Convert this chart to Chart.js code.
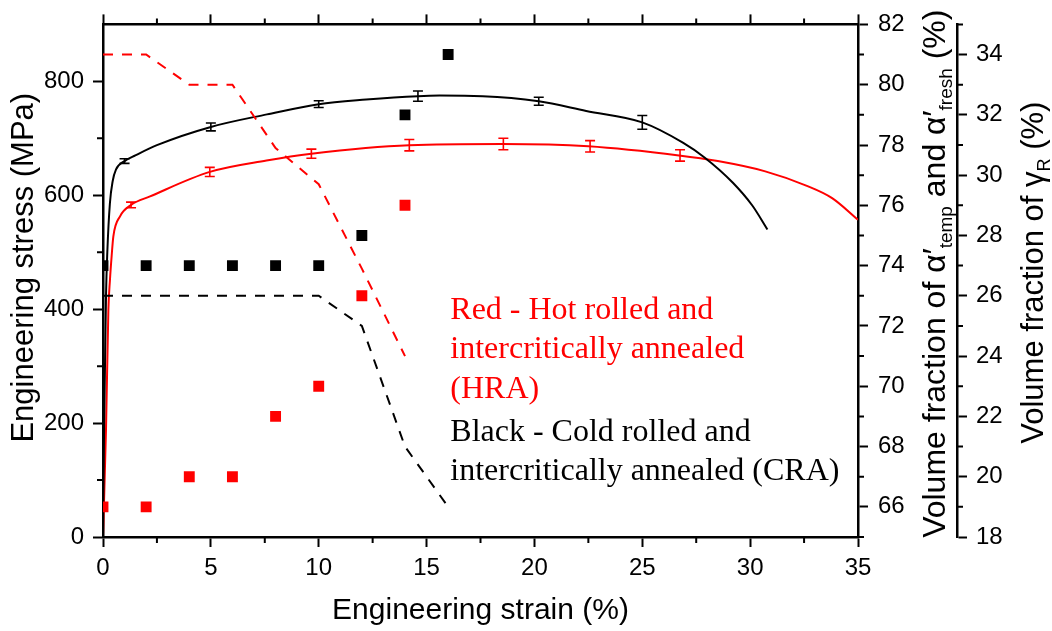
<!DOCTYPE html>
<html>
<head>
<meta charset="utf-8">
<script src="https://cdn.jsdelivr.net/npm/chart.js@4.4.1/dist/chart.umd.min.js"></script>
<style>
  html, body { margin: 0; padding: 0; background: #fff; }
  #wrap { width: 1052px; height: 631px; }
</style>
</head>
<body>
<div id="wrap"><canvas id="tensileChart" width="1052" height="631"></canvas></div>
<script>
"use strict";
// engineering stress-strain curves (strain %, stress MPa)
var craStrain = [0, 0.05, 0.14, 0.2, 0.32, 0.45, 0.6, 1.0, 1.5, 2.5, 5.0, 7.6, 10.0, 12.2, 14.6, 15.6, 17.6, 20.2, 22.4, 25.0, 26.9, 27.9, 29.2, 30.1, 30.8];
var craStress = [0, 190, 424, 500, 586, 625, 645, 660, 670, 688, 720, 742, 760, 768, 774, 775, 774, 765, 748, 728, 692, 666, 622, 582, 540];
var hraStrain = [0, 0.14, 0.25, 0.32, 0.4, 0.48, 0.79, 1.3, 2.18, 4.95, 7.58, 9.66, 14.2, 18.5, 22.5, 26.7, 28.5, 30.7, 32.6, 33.8, 35];
var hraStress = [0, 190, 400, 450, 493, 528, 563, 583, 598, 641, 661, 673, 688, 690, 686, 670, 660, 642, 617, 595, 557];

// scatter of the tensile curves (error bars)
var craErrStrain = [1.0, 5.0, 10.0, 14.6, 20.2, 25.0];
var craErrStress = [660, 720, 760, 774, 765, 728];
var craErrSize = [4, 7, 6, 9, 7, 12];
var hraErrStrain = [1.3, 4.95, 9.66, 14.2, 18.56, 22.58, 26.75];
var hraErrStress = [583, 641, 673, 688, 690, 686, 670];
var hraErrSize = [5, 8, 8, 10, 10, 10, 10];

// alpha' (tempered + fresh) fraction, squares
var craFracStrain = [0, 2, 4, 6, 8, 10, 12, 14, 16];
var craAlpha = [74, 74, 74, 74, 74, 74, 75, 79, 81];
var hraFracStrain = [0, 2, 4, 6, 8, 10, 12, 14];
var hraAlpha = [66, 66, 67, 67, 69, 70, 73, 76];

// retained austenite fraction, dashed
var craGamma = [26, 26, 26, 26, 26, 26, 25, 21, 19];
var hraGamma = [34, 34, 33, 33, 30.9, 29.7, 26.9, 24];

var hraNote = ["Red - Hot rolled and", "intercritically annealed", "(HRA)"];
var craNote = ["Black - Cold rolled and", "intercritically annealed (CRA)"];

var RED = "#ff0000";
var BLACK = "#000000";
var SANS = "'Liberation Sans', Arial, sans-serif";
var SERIF = "'Liberation Serif', 'Times New Roman', serif";

function pairs(xs, ys) {
    var out = [];
    for (var i = 0; i < xs.length; i++) out.push({x: xs[i], y: ys[i]});
    return out;
}

function axisStyle(extra) {
    var base = {
        type: "linear",
        grid: {drawOnChartArea: false, tickLength: 10, tickWidth: 2, tickColor: BLACK},
        border: {display: true, color: BLACK, width: 2.5},
        ticks: {color: BLACK, font: {family: SANS, size: 24}, autoSkip: false, maxRotation: 0, includeBounds: false}
    };
    for (var k in extra) {
        if (typeof extra[k] === "object" && base[k] && !Array.isArray(extra[k])) {
            for (var j in extra[k]) base[k][j] = extra[k][j];
        } else {
            base[k] = extra[k];
        }
    }
    return base;
}

// short ticks between the labelled ones
var minorTicks = {
    id: "minorTicks",
    afterDraw: function (chart) {
        var ctx = chart.ctx, a = chart.chartArea, s = chart.scales, v, p;
        ctx.save();
        ctx.strokeStyle = BLACK;
        ctx.lineWidth = 2;
        ctx.beginPath();
        for (v = 2.5; v < 35; v += 5) {
            p = s.x.getPixelForValue(v);
            ctx.moveTo(p, a.bottom); ctx.lineTo(p, a.bottom + 6);
            ctx.moveTo(p, a.top); ctx.lineTo(p, a.top - 6);
        }
        for (v = 100; v < 900; v += 200) {
            p = s.y.getPixelForValue(v);
            ctx.moveTo(a.left, p); ctx.lineTo(a.left - 6, p);
        }
        for (v = 65; v <= 81; v += 2) {
            p = s.y1.getPixelForValue(v);
            ctx.moveTo(s.y1.left, p); ctx.lineTo(s.y1.left + 6, p);
        }
        for (v = 19; v <= 35; v += 2) {
            p = s.y2.getPixelForValue(v);
            ctx.moveTo(s.y2.left, p); ctx.lineTo(s.y2.left + 6, p);
        }
        ctx.stroke();
        ctx.restore();
    }
};

function drawBars(chart, xs, ys, errs, color) {
    var ctx = chart.ctx, sx = chart.scales.x, sy = chart.scales.y;
    ctx.save();
    ctx.strokeStyle = color;
    ctx.lineWidth = 1.6;
    ctx.beginPath();
    for (var i = 0; i < xs.length; i++) {
        var px = sx.getPixelForValue(xs[i]);
        var top = sy.getPixelForValue(ys[i] + errs[i]);
        var bot = sy.getPixelForValue(ys[i] - errs[i]);
        ctx.moveTo(px, top); ctx.lineTo(px, bot);
        ctx.moveTo(px - 5, top); ctx.lineTo(px + 5, top);
        ctx.moveTo(px - 5, bot); ctx.lineTo(px + 5, bot);
    }
    ctx.stroke();
    ctx.restore();
}

var errorBars = {
    id: "errorBars",
    afterDatasetsDraw: function (chart) {
        drawBars(chart, craErrStrain, craErrStress, craErrSize, BLACK);
        drawBars(chart, hraErrStrain, hraErrStress, hraErrSize, RED);
    }
};

// rotated axis title, parts may carry a subscript
function rotatedTitle(ctx, x, y, parts, size) {
    var subSize = Math.round(size * 0.58);
    var total = 0, i;
    for (i = 0; i < parts.length; i++) {
        ctx.font = (parts[i].sub ? subSize : size) + "px " + SANS;
        parts[i].w = ctx.measureText(parts[i].t).width;
        total += parts[i].w;
    }
    ctx.save();
    ctx.translate(x, y);
    ctx.rotate(-Math.PI / 2);
    ctx.fillStyle = BLACK;
    ctx.textBaseline = "alphabetic";
    ctx.textAlign = "left";
    var cx = -total / 2;
    for (i = 0; i < parts.length; i++) {
        ctx.font = (parts[i].sub ? subSize : size) + "px " + SANS;
        ctx.fillText(parts[i].t, cx, parts[i].sub ? size * 0.22 : 0);
        cx += parts[i].w;
    }
    ctx.restore();
}

var axisTitles = {
    id: "axisTitles",
    afterDraw: function (chart) {
        var ctx = chart.ctx, s = chart.scales, a = chart.chartArea;
        var mid = (a.top + a.bottom) / 2;
        rotatedTitle(ctx, s.y.left + 33, mid - 13, [{t: "Engineering stress (MPa)"}], 31);
        rotatedTitle(ctx, s.y1.left + 87, mid - 7, [
            {t: "Volume fraction of \u03b1\u2032"}, {t: "temp", sub: true},
            {t: " and \u03b1\u2032"}, {t: "fresh", sub: true}, {t: " (%)"}
        ], 32);
        rotatedTitle(ctx, s.y2.left + 86, mid - 8, [
            {t: "Volume fraction of \u03b3"}, {t: "R", sub: true}, {t: " (%)"}
        ], 31);
    }
};

function noteBlock(chart, lines, strain, stress, color) {
    var ctx = chart.ctx;
    var x = chart.scales.x.getPixelForValue(strain);
    var y = chart.scales.y.getPixelForValue(stress);
    ctx.save();
    ctx.fillStyle = color;
    ctx.font = "32px " + SERIF;
    ctx.textAlign = "left";
    ctx.textBaseline = "alphabetic";
    for (var i = 0; i < lines.length; i++) ctx.fillText(lines[i], x, y + i * 39.5);
    ctx.restore();
}

var notes = {
    id: "notes",
    afterDatasetsDraw: function (chart) {
        noteBlock(chart, hraNote, 16.1, 383, RED);
        noteBlock(chart, craNote, 16.1, 168.6, BLACK);
    }
};

var ctx = document.getElementById("tensileChart");
var tensileChart = new Chart(ctx, {
    type: "scatter",
    data: {
        datasets: [
            {data: pairs(craFracStrain, craAlpha), yAxisID: "y1", pointStyle: "rect", pointRadius: 7.7,
                backgroundColor: BLACK, borderWidth: 0, clip: 0},
            {data: pairs(hraFracStrain, hraAlpha), yAxisID: "y1", pointStyle: "rect", pointRadius: 7.7,
                backgroundColor: RED, borderWidth: 0, clip: 0},
            {data: pairs(craFracStrain, craGamma), yAxisID: "y2", showLine: true, pointRadius: 0,
                borderColor: BLACK, borderWidth: 2, borderDash: [10, 9]},
            {data: pairs(craFracStrain.slice(0, hraGamma.length), hraGamma), yAxisID: "y2", showLine: true, pointRadius: 0,
                borderColor: RED, borderWidth: 2, borderDash: [10, 9]},
            {data: pairs(craStrain, craStress), yAxisID: "y", showLine: true, pointRadius: 0,
                borderColor: BLACK, borderWidth: 2, cubicInterpolationMode: "monotone"},
            {data: pairs(hraStrain, hraStress), yAxisID: "y", showLine: true, pointRadius: 0,
                borderColor: RED, borderWidth: 2, cubicInterpolationMode: "monotone"}
        ]
    },
    options: {
        responsive: false,
        animation: false,
        devicePixelRatio: 1,
        events: [],
        layout: {padding: 0},
        plugins: {legend: {display: false}, tooltip: {enabled: false}},
        scales: {
            x: axisStyle({position: "bottom", min: 0, max: 35,
                ticks: {stepSize: 5, padding: 7},
                title: {display: true, text: "Engineering strain (%)", color: BLACK,
                    font: {family: SANS, size: 30}, padding: {top: 0, bottom: 2}},
                afterFit: function (s) { s.height = 94; }}),
            xTop: axisStyle({position: "top", axis: "x", min: 0, max: 35,
                ticks: {stepSize: 5, display: false},
                afterFit: function (s) { s.height = 19.5; }}),
            y: axisStyle({position: "left", min: 0, max: 900,
                ticks: {stepSize: 200, padding: 9},
                afterFit: function (s) { s.width = 103; }}),
            y1: axisStyle({position: "right", weight: 0, min: 65, max: 82,
                ticks: {stepSize: 2, padding: 10},
                afterFit: function (s) { s.width = 99; }}),
            y2: axisStyle({position: "right", weight: 1, min: 18, max: 35,
                ticks: {stepSize: 2, padding: 9},
                afterFit: function (s) { s.width = 95; }})
        }
    },
    plugins: [errorBars, notes, minorTicks, axisTitles]
});
</script>
</body>
</html>
